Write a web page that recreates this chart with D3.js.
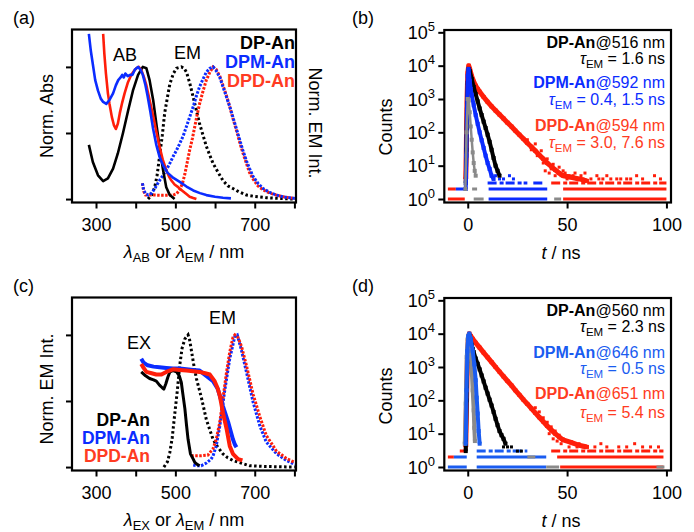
<!DOCTYPE html>
<html>
<head>
<meta charset="utf-8">
<script src="https://cdn.jsdelivr.net/npm/d3@7"></script>
<style>
  body { margin: 0; background: #fff; }
  svg { font-family: "Liberation Sans", Arial, Helvetica, sans-serif; }
</style>
</head>
<body>
<svg id="fig" width="694" height="532"></svg>
<script>
/* (a) absorption (solid) and emission (dotted), [nm, normalized] */
var abDP = [[282,0.41],[292,0.28],[305,0.18],[318,0.136],[330,0.156],[343,0.23],[355,0.345],[368,0.5],[381,0.67],[393,0.82],[406,0.94],[418,1.0],[427,0.99],[435,0.9],[444,0.75],[452,0.57],[460,0.4],[469,0.22],[477,0.09],[486,0.03],[498,0.0]];
var abDPM = [[282,1.25],[287,1.12],[292,1.02],[298,0.9],[305,0.82],[312,0.76],[318,0.735],[326,0.72],[334,0.75],[343,0.8],[350,0.86],[356,0.9],[362,0.92],[366,0.94],[370,0.92],[374,0.95],[380,0.93],[386,0.94],[392,0.94],[398,0.98],[406,1.0],[412,0.98],[418,0.94],[424,0.87],[430,0.78],[437,0.66],[444,0.53],[452,0.41],[460,0.32],[470,0.25],[480,0.2],[495,0.16],[511,0.13],[528,0.095],[545,0.065],[562,0.045],[578,0.03],[600,0.018],[620,0.01],[640,0.005]];
var abDPD = [[318,1.25],[321,1.1],[325,0.95],[330,0.8],[334,0.72],[340,0.62],[345,0.56],[350,0.53],[355,0.57],[360,0.65],[366,0.73],[372,0.8],[380,0.88],[389,0.94],[396,0.97],[402,0.99],[408,1.0],[415,0.97],[421,0.92],[427,0.86],[435,0.75],[444,0.63],[452,0.51],[460,0.4],[468,0.3],[477,0.22],[484,0.17],[490,0.14],[498,0.11],[507,0.09],[513,0.075],[519,0.06],[527,0.04],[536,0.018],[545,0.008],[553,0.0]];
var emDP_a = [[431,0.0],[440,0.03],[448,0.09],[454,0.18],[460,0.32],[467,0.48],[473,0.65],[480,0.77],[486,0.87],[495,0.95],[503,0.99],[515,1.0],[522,0.99],[528,0.96],[536,0.88],[545,0.77],[553,0.67],[561,0.57],[570,0.48],[578,0.4],[587,0.33],[595,0.27],[608,0.2],[620,0.14],[632,0.1],[645,0.08],[660,0.055],[679,0.03],[700,0.02],[729,0.01],[760,0.005],[800,0.0]];
var emDPM_a = [[417,0.12],[420,0.07],[425,0.04],[432,0.03],[440,0.045],[448,0.08],[460,0.14],[469,0.18],[477,0.22],[486,0.27],[494,0.32],[503,0.37],[511,0.42],[520,0.48],[528,0.55],[536,0.62],[545,0.7],[553,0.78],[561,0.85],[570,0.91],[578,0.96],[587,0.99],[595,1.0],[603,0.97],[612,0.92],[620,0.85],[629,0.77],[637,0.7],[645,0.62],[654,0.53],[662,0.45],[670,0.37],[679,0.29],[687,0.23],[696,0.17],[708,0.12],[721,0.08],[738,0.05],[755,0.03],[775,0.015],[801,0.005]];
var emDPD_a = [[417,0.12],[420,0.06],[425,0.03],[435,0.03],[450,0.03],[470,0.028],[494,0.03],[503,0.04],[511,0.07],[518,0.12],[524,0.19],[530,0.28],[536,0.37],[543,0.46],[549,0.55],[555,0.64],[561,0.72],[570,0.82],[578,0.9],[587,0.96],[595,1.0],[603,0.98],[612,0.93],[620,0.86],[629,0.78],[637,0.7],[645,0.61],[654,0.52],[662,0.43],[670,0.35],[679,0.27],[687,0.2],[696,0.15],[708,0.1],[721,0.07],[738,0.045],[755,0.03],[775,0.015],[801,0.005]];

/* (c) excitation (solid) and emission (dotted) */
var exDP = [[414,0.72],[425,0.69],[435,0.67],[445,0.66],[452,0.65],[460,0.62],[467,0.6],[471,0.59],[476,0.63],[481,0.68],[486,0.72],[494,0.73],[503,0.72],[510,0.69],[515,0.64],[519,0.55],[524,0.44],[528,0.32],[532,0.21],[538,0.1],[545,0.06],[549,0.035],[555,0.02],[561,0.01]];
var exDPM = [[414,0.82],[420,0.79],[430,0.77],[445,0.76],[460,0.755],[477,0.75],[494,0.745],[511,0.745],[528,0.74],[545,0.735],[561,0.73],[578,0.69],[595,0.65],[607,0.59],[614,0.52],[620,0.46],[633,0.34],[645,0.21],[650,0.17],[654,0.15]];
var exDPD = [[414,0.78],[420,0.75],[427,0.72],[440,0.71],[452,0.7],[465,0.7],[477,0.72],[494,0.74],[511,0.735],[528,0.73],[545,0.725],[561,0.72],[575,0.71],[587,0.7],[599,0.65],[606,0.6],[612,0.54],[620,0.41],[629,0.29],[637,0.16],[645,0.1],[658,0.06],[669,0.05]];
var emDP_c = [[471,0.0],[480,0.04],[486,0.11],[492,0.22],[498,0.39],[505,0.58],[511,0.77],[517,0.9],[524,0.97],[532,1.0],[536,0.96],[540,0.89],[546,0.78],[553,0.67],[560,0.59],[566,0.52],[572,0.44],[578,0.36],[587,0.28],[595,0.21],[607,0.15],[620,0.1],[632,0.07],[645,0.05],[666,0.03],[687,0.01],[720,0.005],[801,0.0]];
var emDPM_c = [[545,0.015],[553,0.01],[565,0.01],[578,0.03],[590,0.06],[595,0.085],[603,0.16],[612,0.31],[624,0.57],[637,0.82],[650,0.99],[656,1.0],[666,0.89],[679,0.72],[696,0.49],[713,0.31],[729,0.19],[755,0.1],[780,0.05],[801,0.02]];
var emDPD_c = [[540,0.085],[550,0.085],[561,0.085],[582,0.09],[595,0.14],[603,0.21],[612,0.34],[620,0.52],[629,0.72],[637,0.87],[645,0.98],[650,1.0],[658,0.98],[667,0.91],[679,0.77],[696,0.55],[713,0.38],[729,0.24],[755,0.12],[780,0.065],[801,0.035]];

/* (b) decays at emission max, [t / ns, counts] */
var irfB = [[-1.2,2],[-0.6,100],[0,1000],[0.5,900],[1,400],[1.5,150],[2,60],[2.5,25],[3,12],[3.5,7],[4,5]];
var decDPD_b = [[-1,4],[-0.7,40],[-0.4,800],[0,6000],[0.5,10000],[1,8000],[2,4800],[3,3300],[4,2500],[5,2000],[6,1650],[8,1150],[10,820],[12,600],[14,450],[16,340],[18,260],[20,195],[22,150],[24,112],[26,85],[28,64],[30,48],[32,37],[34,28],[36,21],[38,16],[40,12],[42,9.5],[44,7.5],[46,6],[48,5],[52,4.5],[56,4],[60,3.5]];
var decDP_b = [[-1,3],[-0.7,30],[-0.4,500],[0,3000],[0.5,8000],[1,7000],[2,4000],[3,2300],[4,1400],[5,850],[6,520],[7,330],[8,210],[9,135],[10,85],[11,52],[12,30],[13,17],[14,10],[15,7],[16,5]];
var decDPM_b = [[-1,2],[-0.7,20],[-0.4,400],[0,5000],[0.4,8000],[1,3500],[1.5,2000],[2,1300],[3,650],[4,330],[5,180],[6,100],[7,58],[8,34],[9,20],[10,12],[11,8],[12,5],[13,4]];
var sparseDPD_b = [[30,60],[32,30],[34,45],[35,20],[37,28],[38,12],[39,7],[40,16],[41,6],[42,8],[43,11],[44,5],[45,7],[46,9],[47,5],[48,7],[49,6],[50,4],[51,5],[53,5],[54,6],[55,4],[57,5],[58,4],[59,6],[62,4],[65,5],[66,4],[68,4],[70,5],[72,4],[75,4],[77,4],[80,4],[82,4],[85,5],[88,4],[94,5],[97,4]];
var sparseDPM_b = [[14,5],[16,4],[18,4],[21,5],[23,4]];
// background bands: [t0, t1, counts]
var bandDPD_b = [[-10,-1.5,1],[-10,-6,2],[48,100,1],[48,100,2],[42,100,3]];
var bandDPM_b = [[-6,-1,2],[10.5,40,1],[10.5,40,2],[10,30,3],[33,39,3]];
var bandIRF_b = [[3,8,1],[2.2,4.7,2],[43.5,47,1]];

/* (d) decays */
var irfD = [[-1.5,5],[-1,80],[-0.5,2000],[0,7000],[0.5,9000],[1,6000],[1.5,2500],[2,800],[2.5,200],[3,50],[3.3,15],[3.6,6]];
var decDPD_d = [[-1,4],[-0.6,100],[-0.2,1500],[0.3,7000],[0.8,10000],[1.5,8500],[2.5,7000],[4,5300],[6,3800],[8,2700],[10,1950],[12,1400],[14,1000],[16,720],[18,520],[20,380],[22,280],[24,200],[26,145],[28,105],[30,78],[32,57],[34,42],[36,31],[38,23],[40,17],[42,13],[44,10],[46,8],[48,6.5],[52,5.5],[56,4.5],[60,4]];
var decDP_d = [[-1,3],[-0.6,100],[-0.2,1500],[0.3,6000],[1,8500],[1.5,6500],[2,4500],[2.5,3500],[3,2800],[4,1800],[5,1250],[6,850],[7,560],[8,370],[9,240],[10,160],[11,105],[12,70],[13,45],[14,28],[15,18],[16,12],[17,9],[18,7],[19,5]];
var decDPM_d = [[-1,5],[-0.6,200],[-0.2,3000],[0.3,8500],[0.8,10000],[1.5,7000],[2.5,3000],[3.3,1200],[4,400],[4.5,120],[5,40],[5.5,12],[6,5]];
var sparseDPD_d = [[34,60],[36,45],[38,30],[40,22],[41,10],[42,16],[43,7],[44,12],[45,6],[46,9],[47,5],[48,7],[50,6],[51,4],[53,5],[55,4],[56,5],[58,4],[60,4],[64,4],[67,5],[70,4],[76,4],[80,4],[84,5],[88,4],[92,4],[96,4]];
var sparseDP_d = [[18,4],[20,4],[22,4],[25,3],[27,3]];
var bandDPD_d = [[-10,-7,2],[-4,-1,3],[46.5,98.5,1],[45,98.5,2],[42,98.5,3]];
var bandDPM_d = [[-10,-0.5,1],[-7,-0.5,2],[4.5,39.5,1],[4.5,39.5,2],[4.5,30,3]];
var bandIRF_d = [[39.5,46,1],[95,99,1],[30,34,2]];

var tickNm = [300, 400, 500, 600, 700, 800];
var tickNmLabel = [300, 500, 700];
var tickNorm = [0, 0.5, 1];
var tickT = [0, 50, 100];
var tickCounts = [1, 10, 100, 1000, 10000, 100000];

var svg = d3.select("#fig");
var BLUE = "#0b2cff", BLUE_D = "#1a5cf0", RED = "#ff1e0a", RED_T = "#ff3b22", GRAY = "#8a8a8a";

function frame(x0, x1, y0, y1) {
  svg.append("rect")
    .attr("x", x0).attr("y", y0)
    .attr("width", x1 - x0).attr("height", y1 - y0)
    .attr("fill", "none").attr("stroke", "#000").attr("stroke-width", 2.2);
}

function styleAxis(g) {
  g.select(".domain").remove();
  g.selectAll(".tick line").attr("stroke", "#000").attr("stroke-width", 2);
  g.selectAll(".tick text").attr("font-size", 18).attr("fill", "#000")
    .attr("font-family", "Liberation Sans, Arial, sans-serif");
}

function specPanel(dy, id, solids, dots) {
  var top = 29.5 + dy, bot = 202.5 + dy;
  var x = d3.scaleLinear().domain([239.5, 804]).range([72, 296]);
  var y = d3.scaleLinear().domain([-0.026, 1.283]).range([bot, top]);

  svg.append("clipPath").attr("id", id)
    .append("rect").attr("x", 72).attr("y", top).attr("width", 224).attr("height", bot - top);

  var line = d3.line().x(function (d) { return x(d[0]); }).y(function (d) { return y(d[1]); });
  var g = svg.append("g").attr("clip-path", "url(#" + id + ")");

  dots.forEach(function (s) {
    g.append("path").attr("d", line(s.data)).attr("fill", "none")
      .attr("stroke", s.color).attr("stroke-width", 3)
      .attr("stroke-dasharray", s.dash);
  });
  solids.forEach(function (s) {
    g.append("path").attr("d", line(s.data)).attr("fill", "none")
      .attr("stroke", s.color).attr("stroke-width", s.w)
      .attr("stroke-linejoin", "round");
  });

  svg.append("g").attr("transform", "translate(0," + bot + ")")
    .call(d3.axisBottom(x).tickValues(tickNm).tickSize(6).tickPadding(10)
      .tickFormat(function (d) { return tickNmLabel.indexOf(d) >= 0 ? d : ""; }))
    .call(styleAxis);
  svg.append("g").attr("transform", "translate(72,0)")
    .call(d3.axisLeft(y).tickValues(tickNorm).tickSize(6).tickFormat(""))
    .call(styleAxis);
  frame(72, 296, top, bot);
}

function decayPanel(dy, id, series, bands, sparse) {
  var top = 30 + dy, bot = 202.5 + dy;
  var x = d3.scaleLinear().domain([-11.8, 102.3]).range([444.3, 671]);
  var y = d3.scaleLog().domain([Math.pow(10, -0.105), Math.pow(10, 5.07)]).range([bot, top]);

  svg.append("clipPath").attr("id", id)
    .append("rect").attr("x", 444.3).attr("y", top).attr("width", 226.7).attr("height", bot - top);
  var g = svg.append("g").attr("clip-path", "url(#" + id + ")");

  bands.forEach(function (b) {
    g.selectAll(null).data(b.data).enter().append("line")
      .attr("x1", function (d) { return x(d[0]); })
      .attr("x2", function (d) { return x(d[1]); })
      .attr("y1", function (d) { return y(d[2]); })
      .attr("y2", function (d) { return y(d[2]); })
      .attr("stroke", b.color).attr("stroke-width", 3)
      .attr("stroke-dasharray", function (d) { return d[2] >= 3 ? "9,3,4,2" : null; });
  });
  sparse.forEach(function (s) {
    g.selectAll(null).data(s.data).enter().append("rect")
      .attr("x", function (d) { return x(d[0]) - 1.5; })
      .attr("y", function (d) { return y(d[1]) - 1.5; })
      .attr("width", 3).attr("height", 3).attr("fill", s.color);
  });

  var line = d3.line().x(function (d) { return x(d[0]); }).y(function (d) { return y(d[1]); });
  series.forEach(function (s) {
    g.append("path").attr("d", line(s.data)).attr("fill", "none")
      .attr("stroke", s.color).attr("stroke-width", s.w || 4)
      .attr("stroke-linejoin", "round");
    g.selectAll(null).data(s.data).enter().append("rect")
      .attr("x", function (d) { return x(d[0]) - 2; })
      .attr("y", function (d) { return y(d[1]) - 2; })
      .attr("width", 4).attr("height", 4).attr("fill", s.color);
  });

  svg.append("g").attr("transform", "translate(0," + bot + ")")
    .call(d3.axisBottom(x).tickValues(tickT).tickSize(6).tickPadding(10))
    .call(styleAxis);
  svg.append("g").attr("transform", "translate(444.3,0)")
    .call(d3.axisLeft(y).tickValues(tickCounts).tickSize(6).tickFormat(""))
    .call(styleAxis);
  tickCounts.forEach(function (c) {
    var t = svg.append("text").attr("x", 435).attr("y", y(c) + 6.6)
      .attr("text-anchor", "end").attr("font-size", 18);
    t.append("tspan").text("10");
    t.append("tspan").attr("font-size", 13).attr("dy", -8).text(Math.round(Math.log10(c)));
  });
  frame(444.3, 671, top, bot);
}

specPanel(0, "clipA",
  [{ data: abDP, color: "#000", w: 2.6 }, { data: abDPD, color: RED, w: 2.6 }, { data: abDPM, color: BLUE, w: 2.6 }],
  [{ data: emDP_a, color: "#000", dash: "2.5,2.5" }, { data: emDPD_a, color: RED, dash: "2.5,1.5" }, { data: emDPM_a, color: BLUE, dash: "2.5,1.5" }]);

specPanel(268, "clipC",
  [{ data: exDP, color: "#000", w: 3 }, { data: exDPM, color: BLUE, w: 4 }, { data: exDPD, color: RED, w: 4 }],
  [{ data: emDP_c, color: "#000", dash: "2.5,2.5" }, { data: emDPM_c, color: BLUE, dash: "2.5,1.5" }, { data: emDPD_c, color: RED, dash: "2.5,1.5" }]);

decayPanel(0, "clipB",
  [{ data: decDPD_b, color: RED, w: 5 }, { data: decDP_b, color: "#000" }, { data: decDPM_b, color: BLUE }, { data: irfB, color: GRAY, w: 2.5 }],
  [{ data: bandDPD_b, color: RED }, { data: bandDPM_b, color: BLUE }, { data: bandIRF_b, color: GRAY }],
  [{ data: sparseDPD_b, color: RED }, { data: sparseDPM_b, color: BLUE }]);

decayPanel(268, "clipD",
  [{ data: decDPD_d, color: RED, w: 5 }, { data: decDP_d, color: "#000" }, { data: irfD, color: GRAY }, { data: decDPM_d, color: BLUE_D }],
  [{ data: bandDPD_d, color: RED }, { data: bandDPM_d, color: BLUE_D }, { data: bandIRF_d, color: GRAY }],
  [{ data: sparseDPD_d, color: RED }, { data: sparseDP_d, color: "#000" }]);

/* ---- text ---- */
function label(x, y, size, anchor, parts, color, rot) {
  var t = svg.append("text").attr("font-size", size).attr("text-anchor", anchor || "start")
    .attr("fill", color || "#000");
  if (rot) t.attr("transform", "translate(" + x + "," + y + ") rotate(" + rot + ")");
  else t.attr("x", x).attr("y", y);
  parts.forEach(function (p) {
    var s = t.append("tspan").text(p.t);
    if (p.b) s.attr("font-weight", "bold");
    if (p.i) s.attr("font-style", "italic");
    if (p.sub) s.attr("font-size", size * 0.72).attr("dy", 4);
    if (p.back) s.attr("dy", -4);
    if (p.c) s.attr("fill", p.c);
  });
  return t;
}

label(13, 24, 18, "start", [{ t: "(a)" }]);
label(352, 24, 18, "start", [{ t: "(b)" }]);
label(13, 292, 18, "start", [{ t: "(c)" }]);
label(352, 292, 18, "start", [{ t: "(d)" }]);

label(53, 116, 18, "middle", [{ t: "Norm. Abs" }], "#000", -90);
label(309, 123, 18, "middle", [{ t: "Norm. EM Int." }], "#000", 90);
label(53, 389, 18, "middle", [{ t: "Norm. EM Int." }], "#000", -90);
label(392, 127, 18, "middle", [{ t: "Counts" }], "#000", -90);
label(392, 396, 18, "middle", [{ t: "Counts" }], "#000", -90);

label(184, 258, 18, "middle", [{ t: "λ", i: true }, { t: "AB", sub: true }, { t: " or ", back: true }, { t: "λ", i: true }, { t: "EM", sub: true }, { t: " / nm", back: true }]);
label(184, 526, 18, "middle", [{ t: "λ", i: true }, { t: "EX", sub: true }, { t: " or ", back: true }, { t: "λ", i: true }, { t: "EM", sub: true }, { t: " / nm", back: true }]);
label(561, 259, 18, "middle", [{ t: "t", i: true }, { t: " / ns" }]);
label(561, 527, 18, "middle", [{ t: "t", i: true }, { t: " / ns" }]);

label(113, 61, 18, "start", [{ t: "AB" }]);
label(174, 59, 18, "start", [{ t: "EM" }]);
label(127, 349, 18, "start", [{ t: "EX" }]);
label(209, 324, 18, "start", [{ t: "EM" }]);

label(295, 49, 18, "end", [{ t: "DP-An", b: true }]);
label(295, 68, 18, "end", [{ t: "DPM-An", b: true }], BLUE);
label(295, 87, 18, "end", [{ t: "DPD-An", b: true }], RED_T);

label(150, 426, 17.5, "end", [{ t: "DP-An", b: true }]);
label(150, 444, 17.5, "end", [{ t: "DPM-An", b: true }], BLUE);
label(150, 462, 17.5, "end", [{ t: "DPD-An", b: true }], RED_T);

function decayText(dy, rows) {
  rows.forEach(function (r) {
    label(665, r.y + dy, 16, "end", r.name
      ? [{ t: r.name, b: true }, { t: r.rest }]
      : [{ t: "τ", i: true }, { t: "EM", sub: true }, { t: r.rest, back: true }], r.c);
  });
}
decayText(0, [
  { y: 47.5, name: "DP-An", rest: "@516 nm", c: "#000" },
  { y: 63.5, rest: " = 1.6 ns", c: "#000" },
  { y: 87.5, name: "DPM-An", rest: "@592 nm", c: BLUE },
  { y: 104.5, rest: " = 0.4, 1.5 ns", c: BLUE },
  { y: 130.5, name: "DPD-An", rest: "@594 nm", c: RED_T },
  { y: 147.5, rest: " = 3.0, 7.6 ns", c: RED_T }
]);
decayText(268, [
  { y: 47.5, name: "DP-An", rest: "@560 nm", c: "#000" },
  { y: 63.5, rest: " = 2.3 ns", c: "#000" },
  { y: 89.5, name: "DPM-An", rest: "@646 nm", c: BLUE_D },
  { y: 106, rest: " = 0.5 ns", c: BLUE_D },
  { y: 130.5, name: "DPD-An", rest: "@651 nm", c: RED_T },
  { y: 149.5, rest: " = 5.4 ns", c: RED_T }
]);
</script>
</body>
</html>
